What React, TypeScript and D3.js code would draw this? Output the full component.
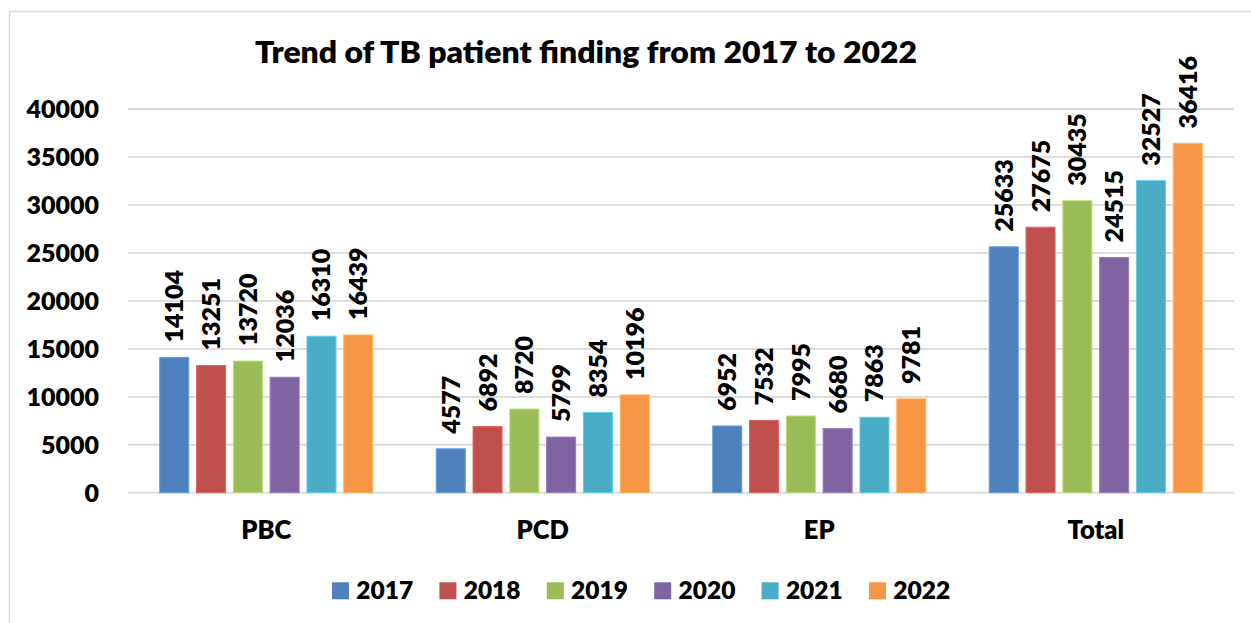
import * as d3 from "d3";

// ── Data ──────────────────────────────────────────────────────────────────────
const categories = ["PBC", "PCD", "EP", "Total"];
const years = ["2017", "2018", "2019", "2020", "2021", "2022"];

const s2017 = [14104, 4577, 6952, 25633];
const s2018 = [13251, 6892, 7532, 27675];
const s2019 = [13720, 8720, 7995, 30435];
const s2020 = [12036, 5799, 6680, 24515];
const s2021 = [16310, 8354, 7863, 32527];
const s2022 = [16439, 10196, 9781, 36416];

const yTicks = [0, 5000, 10000, 15000, 20000, 25000, 30000, 35000, 40000];

const seriesByYear: number[][] = [s2017, s2018, s2019, s2020, s2021, s2022];

// Excel 2010 default palette
const COLORS = ["#4F81BD", "#C0504D", "#9BBB59", "#8064A2", "#4BACC6", "#F79646"];

const W = 1251;
const H = 623;
const FONT = "Lato, 'Open Sans', sans-serif";
const WEIGHT = 800;
const GRID = "#D9D9D9";

// ── Component ─────────────────────────────────────────────────────────────────
export default function App() {
  const x0 = d3.scaleBand<string>().domain(categories).range([128, 1234]).paddingInner(0).paddingOuter(0);
  const x1 = d3
    .scaleBand<string>()
    .domain(years)
    .range([0, x0.bandwidth()])
    .paddingInner(0.212)
    .paddingOuter(0.863);
  const y = d3.scaleLinear().domain([0, 40000]).range([492.7, 109]);

  const legendX = d3.scalePoint<string>().domain(years).range([332, 869]);

  return (
    <svg
      width={W}
      height={H}
      style={{ position: "absolute", left: 0, top: 0, background: "#fff" }}
      fontFamily={FONT}
    >
      {/* chart border (cropped at right / bottom like the source) */}
      <rect x={9.5} y={11.5} width={1300} height={700} fill="#fff" stroke={GRID} strokeWidth={1.5} />

      {/* title */}
      <text
        x={586}
        y={63.3}
        textAnchor="middle"
        fontSize={30}
        fontWeight={WEIGHT}
        fill="#000"
        textLength={662}
        lengthAdjust="spacingAndGlyphs"
      >
        Trend of TB patient finding from 2017 to 2022
      </text>

      {/* gridlines + y labels */}
      {yTicks.map((t) => (
        <g key={t}>
          <line x1={128} x2={1234} y1={y(t)} y2={y(t)} stroke={GRID} strokeWidth={1.8} />
          <text
            x={99}
            y={y(t)}
            dy="0.36em"
            textAnchor="end"
            fontSize={25}
            fontWeight={WEIGHT}
            fill="#000"
          >
            {t}
          </text>
        </g>
      ))}

      {/* bars */}
      {categories.map((cat, ci) => (
        <g key={cat} transform={`translate(${x0(cat)},0)`}>
          {years.map((yr, yi) => {
            const v = seriesByYear[yi][ci];
            const bx = x1(yr) ?? 0;
            const bw = x1.bandwidth();
            const edge = d3.color(COLORS[yi])?.brighter(0.5)?.formatHex() ?? COLORS[yi];
            return (
              <g key={yr}>
                <rect
                  x={bx}
                  y={y(v)}
                  width={bw}
                  height={y(0) - y(v)}
                  fill={COLORS[yi]}
                  stroke={edge}
                  strokeWidth={1}
                />
                <text
                  transform={`translate(${bx + bw / 2},${y(v) - 15}) rotate(-90)`}
                  dy="0.36em"
                  textAnchor="start"
                  fontSize={25}
                  fontWeight={WEIGHT}
                  fill="#000"
                >
                  {v}
                </text>
              </g>
            );
          })}
        </g>
      ))}

      {/* category labels */}
      {categories.map((cat) => (
        <text
          key={cat}
          x={(x0(cat) ?? 0) + x0.bandwidth() / 2}
          y={539.3}
          textAnchor="middle"
          fontSize={25.5}
          fontWeight={WEIGHT}
          fill="#000"
        >
          {cat}
        </text>
      ))}

      {/* legend */}
      {years.map((yr, i) => {
        const lx = legendX(yr) ?? 0;
        return (
          <g key={yr}>
            <rect x={lx} y={582.3} width={17} height={17} fill={COLORS[i]} />
            <text x={lx + 24.3} y={599.3} fontSize={24.5} fontWeight={WEIGHT} fill="#000">
              {yr}
            </text>
          </g>
        );
      })}
    </svg>
  );
}
